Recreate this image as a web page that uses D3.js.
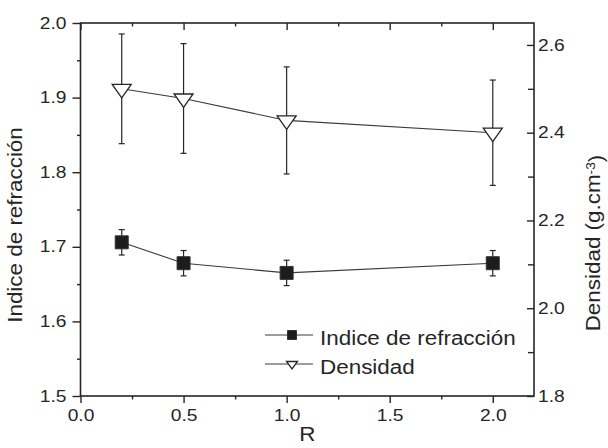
<!DOCTYPE html>
<html>
<head>
<meta charset="utf-8">
<script src="https://cdn.jsdelivr.net/npm/d3@7"></script>
<style>
  body { margin: 0; background: #fff; }
  svg { display: block; font-family: "Liberation Sans", Arial, sans-serif; }
</style>
</head>
<body>
<div id="chart"></div>
<script>
// data
const R = [0.2, 0.5, 1.0, 2.0];
const indice = [1.706, 1.678, 1.665, 1.678];
const indiceErr = [0.017, 0.017, 0.017, 0.017];
const densidad = [2.50, 2.478, 2.428, 2.40];
const densidadErr = [0.125, 0.125, 0.122, 0.12];

const xTicks = [0, 0.5, 1.0, 1.5, 2.0];
const xMinor = [0.25, 0.75, 1.25, 1.75];
const yLeftTicks = [1.5, 1.6, 1.7, 1.8, 1.9, 2.0];
const yLeftMinor = [1.55, 1.65, 1.75, 1.85, 1.95];
const yRightTicks = [1.8, 2.0, 2.2, 2.4, 2.6];
const yRightMinor = [1.9, 2.1, 2.3, 2.5];

const width = 608, height = 448;
const ink = "#262626";
const plot = { left: 80.5, right: 534, top: 23, bottom: 396 };

const svg = d3.select("#chart").append("svg")
  .attr("width", width)
  .attr("height", height);

const x = d3.scaleLinear().domain([0, 2.2]).range([plot.left, plot.right]);
const yL = d3.scaleLinear().domain([1.5, 2.0]).range([plot.bottom, plot.top]);
const yR = d3.scaleLinear().domain([1.8, 2.65]).range([plot.bottom, plot.top]);

/* widen glyphs a bit, the scanned figure uses a broad sans */
function stretch(sel, k) {
  sel.each(function () {
    const len = this.getComputedTextLength();
    d3.select(this).attr("textLength", len * k).attr("lengthAdjust", "spacingAndGlyphs");
  });
}

function styleAxis(g, fontSize) {
  g.select(".domain").remove();
  g.selectAll(".tick line").attr("stroke", ink).attr("stroke-width", 1.4);
  g.selectAll(".tick text")
    .attr("fill", ink)
    .style("font-size", fontSize + "px")
    .style("font-family", "'Liberation Sans', Arial, sans-serif");
}

const fmt = d3.format(".1f");

// bottom axis, ticks outward
svg.append("g")
  .attr("transform", `translate(0,${plot.bottom})`)
  .call(d3.axisBottom(x).tickValues(xTicks).tickFormat(fmt).tickSize(7).tickPadding(7))
  .call((g) => styleAxis(g, 16))
  .call((g) => stretch(g.selectAll(".tick text"), 1.2));
svg.append("g")
  .attr("transform", `translate(0,${plot.bottom})`)
  .call(d3.axisBottom(x).tickValues(xMinor).tickFormat("").tickSize(3.5))
  .call((g) => styleAxis(g, 16));

// top axis, ticks inward
svg.append("g")
  .attr("transform", `translate(0,${plot.top})`)
  .call(d3.axisTop(x).tickValues(xTicks).tickFormat("").tickSize(-7))
  .call((g) => styleAxis(g, 16));
svg.append("g")
  .attr("transform", `translate(0,${plot.top})`)
  .call(d3.axisTop(x).tickValues(xMinor).tickFormat("").tickSize(-3.5))
  .call((g) => styleAxis(g, 16));

// left axis, ticks outward
svg.append("g")
  .attr("transform", `translate(${plot.left},0)`)
  .call(d3.axisLeft(yL).tickValues(yLeftTicks).tickFormat(fmt).tickSize(8).tickPadding(6))
  .call((g) => styleAxis(g, 16))
  .call((g) => stretch(g.selectAll(".tick text"), 1.2));
svg.append("g")
  .attr("transform", `translate(${plot.left},0)`)
  .call(d3.axisLeft(yL).tickValues(yLeftMinor).tickFormat("").tickSize(3.5))
  .call((g) => styleAxis(g, 16));

// right axis, ticks inward
svg.append("g")
  .attr("transform", `translate(${plot.right},0)`)
  .call(d3.axisRight(yR).tickValues(yRightTicks).tickFormat(fmt).tickSize(-7).tickPadding(4))
  .call((g) => styleAxis(g, 16))
  .call((g) => stretch(g.selectAll(".tick text"), 1.2));
svg.append("g")
  .attr("transform", `translate(${plot.right},0)`)
  .call(d3.axisRight(yR).tickValues(yRightMinor).tickFormat("").tickSize(-6))
  .call((g) => styleAxis(g, 16));

// frame
svg.append("rect")
  .attr("x", plot.left)
  .attr("y", plot.top)
  .attr("width", plot.right - plot.left)
  .attr("height", plot.bottom - plot.top)
  .attr("fill", "none")
  .attr("stroke", ink)
  .attr("stroke-width", 1.6);

/** one series: connecting line, error bars, markers */
function series(values, errs, y, symbol) {
  const pts = R.map((r, i) => ({ r, v: values[i], e: errs[i] }));
  const g = svg.append("g");
  g.append("path")
    .datum(pts)
    .attr("fill", "none")
    .attr("stroke", "#3a3a3a")
    .attr("stroke-width", 1.1)
    .attr("d", d3.line().x((d) => x(d.r)).y((d) => y(d.v)));
  const eb = g.selectAll(".eb").data(pts).join("g").attr("class", "eb")
    .attr("stroke", ink).attr("stroke-width", 1.2);
  eb.append("line")
    .attr("x1", (d) => x(d.r)).attr("x2", (d) => x(d.r))
    .attr("y1", (d) => y(d.v - d.e)).attr("y2", (d) => y(d.v + d.e));
  [-1, 1].forEach((s) => {
    eb.append("line")
      .attr("x1", (d) => x(d.r) - 3).attr("x2", (d) => x(d.r) + 3)
      .attr("y1", (d) => y(d.v + s * d.e)).attr("y2", (d) => y(d.v + s * d.e));
  });
  g.selectAll(".mk").data(pts).join("path").attr("class", "mk")
    .attr("transform", (d) => `translate(${x(d.r)},${y(d.v)})`)
    .call(symbol);
}

function square(size) {
  return (sel) => sel
    .attr("d", `M${-size / 2},${-size / 2}h${size}v${size}h${-size}Z`)
    .attr("fill", "#1c1c1c")
    .attr("stroke", "#333")
    .attr("stroke-width", 1);
}
function triangleDown(halfW, h) {
  // centroid sits on the data point
  return (sel) => sel
    .attr("d", `M${-halfW},${-h / 3}L${halfW},${-h / 3}L0,${(2 * h) / 3}Z`)
    .attr("fill", "#fff")
    .attr("stroke", ink)
    .attr("stroke-width", 1.3);
}

series(densidad, densidadErr, yR, triangleDown(9.5, 13.5));
series(indice, indiceErr, yL, square(13));

// legend
const legend = svg.append("g");
const legendRows = [
  { label: "Indice de refracción", y: 335, symbol: square(9) },
  { label: "Densidad", y: 364, symbol: triangleDown(5.5, 7.5) },
];
legendRows.forEach((row) => {
  legend.append("line")
    .attr("x1", 265).attr("x2", 313)
    .attr("y1", row.y).attr("y2", row.y)
    .attr("stroke", "#3a3a3a").attr("stroke-width", 1.1);
  legend.append("path")
    .attr("transform", `translate(292,${row.y})`)
    .call(row.symbol);
  legend.append("text")
    .attr("x", 320)
    .attr("y", row.y + 4)
    .attr("dy", "0.3em")
    .attr("fill", ink)
    .style("font-size", "19.5px")
    .text(row.label)
    .call((t) => stretch(t, 1.15));
});

// axis titles
svg.append("text")
  .attr("x", (plot.left + plot.right) / 2)
  .attr("y", 441)
  .attr("text-anchor", "middle")
  .attr("fill", ink)
  .style("font-size", "19.5px")
  .text("R")
  .call((t) => stretch(t, 1.15));

svg.append("g")
  .attr("transform", "translate(22,225) rotate(-90) scale(1.15,1)")
  .append("text")
  .attr("text-anchor", "middle")
  .attr("fill", ink)
  .style("font-size", "19.5px")
  .text("Indice de refracción");

const rightTitle = svg.append("g")
  .attr("transform", "translate(600,243) rotate(-90) scale(1.15,1)")
  .append("text")
  .attr("text-anchor", "middle")
  .attr("fill", ink)
  .style("font-size", "19.5px");
rightTitle.append("tspan").text("Densidad (g.cm");
rightTitle.append("tspan").attr("dy", "-0.45em").style("font-size", "12px").text("-3");
rightTitle.append("tspan").attr("dy", "0.45em").text(")");
</script>
</body>
</html>
